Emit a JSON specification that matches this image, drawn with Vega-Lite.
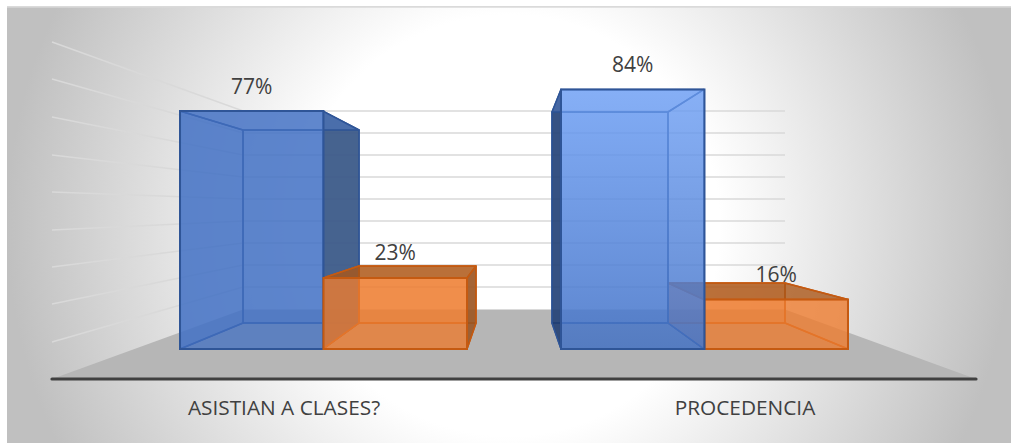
{"$schema":"https://vega.github.io/schema/vega-lite/v6.json","width":1011,"height":444,"padding":0,"autosize":{"type":"none"},"background":"white","view":{"stroke":null},
"datasets":{
"valores":[{"categoria":"ASISTIAN A CLASES?","serie":"Si","valor":0.77},{"categoria":"ASISTIAN A CLASES?","serie":"No","valor":0.23},{"categoria":"PROCEDENCIA","serie":"Si","valor":0.84},{"categoria":"PROCEDENCIA","serie":"No","valor":0.16}],
"piso":[{"h":52,"alto":-0.0971,"bajo":-0.0971},{"h":243,"alto":0.1278,"bajo":-0.0971},{"h":785,"alto":0.1278,"bajo":-0.0971},{"h":976,"alto":-0.0971,"bajo":-0.0971}],
"rejilla":[
{"nivel":90,"h":52,"y":0.9935},{"nivel":90,"h":243,"y":0.7702},{"nivel":90,"h":785,"y":0.7702},
{"nivel":80,"h":52,"y":0.8738},{"nivel":80,"h":243,"y":0.699},{"nivel":80,"h":785,"y":0.699},
{"nivel":70,"h":52,"y":0.7508},{"nivel":70,"h":243,"y":0.6278},{"nivel":70,"h":785,"y":0.6278},
{"nivel":60,"h":52,"y":0.6278},{"nivel":60,"h":243,"y":0.5566},{"nivel":60,"h":785,"y":0.5566},
{"nivel":50,"h":52,"y":0.5081},{"nivel":50,"h":243,"y":0.4854},{"nivel":50,"h":785,"y":0.4854},
{"nivel":40,"h":52,"y":0.3851},{"nivel":40,"h":243,"y":0.4142},{"nivel":40,"h":785,"y":0.4142},
{"nivel":30,"h":52,"y":0.2654},{"nivel":30,"h":243,"y":0.343},{"nivel":30,"h":785,"y":0.343},
{"nivel":20,"h":52,"y":0.1456},{"nivel":20,"h":243,"y":0.2718},{"nivel":20,"h":785,"y":0.2718},
{"nivel":10,"h":52,"y":0.0227},{"nivel":10,"h":243,"y":0.2006},{"nivel":10,"h":785,"y":0.2006}],
"caras":[
{"pieza":"A trasera","serie":"Si","h":243,"alto":0.7087,"bajo":0.0841},{"pieza":"A trasera","serie":"Si","h":359,"alto":0.7087,"bajo":0.0841},
{"pieza":"A inferior","serie":"Si","h":180,"alto":0,"bajo":0},{"pieza":"A inferior","serie":"Si","h":243,"alto":0.0841,"bajo":0},{"pieza":"A inferior","serie":"Si","h":323,"alto":0.0841,"bajo":0},{"pieza":"A inferior","serie":"Si","h":359,"alto":0.0841,"bajo":0.0841},
{"pieza":"A izquierda","serie":"Si","h":180,"alto":0.77,"bajo":0},{"pieza":"A izquierda","serie":"Si","h":243,"alto":0.7087,"bajo":0.0841},
{"pieza":"A derecha","serie":"Si","h":323,"alto":0.77,"bajo":0},{"pieza":"A derecha","serie":"Si","h":359,"alto":0.7087,"bajo":0.0841},
{"pieza":"A superior","serie":"Si","h":180,"alto":0.77,"bajo":0.77},{"pieza":"A superior","serie":"Si","h":243,"alto":0.77,"bajo":0.7087},{"pieza":"A superior","serie":"Si","h":323,"alto":0.77,"bajo":0.7087},{"pieza":"A superior","serie":"Si","h":359,"alto":0.7087,"bajo":0.7087},
{"pieza":"B trasera","serie":"No","h":359,"alto":0.2686,"bajo":0.0841},{"pieza":"B trasera","serie":"No","h":476,"alto":0.2686,"bajo":0.0841},
{"pieza":"B inferior","serie":"No","h":323,"alto":0,"bajo":0},{"pieza":"B inferior","serie":"No","h":359,"alto":0.0841,"bajo":0},{"pieza":"B inferior","serie":"No","h":467,"alto":0.0841,"bajo":0},{"pieza":"B inferior","serie":"No","h":476,"alto":0.0841,"bajo":0.0841},
{"pieza":"B izquierda","serie":"No","h":323,"alto":0.23,"bajo":0},{"pieza":"B izquierda","serie":"No","h":359,"alto":0.2686,"bajo":0.0841},
{"pieza":"B derecha","serie":"No","h":467,"alto":0.23,"bajo":0},{"pieza":"B derecha","serie":"No","h":476,"alto":0.2686,"bajo":0.0841},
{"pieza":"B superior","serie":"No","h":323,"alto":0.23,"bajo":0.23},{"pieza":"B superior","serie":"No","h":359,"alto":0.2686,"bajo":0.23},{"pieza":"B superior","serie":"No","h":467,"alto":0.2686,"bajo":0.23},{"pieza":"B superior","serie":"No","h":476,"alto":0.2686,"bajo":0.2686},
{"pieza":"D trasera","serie":"No","h":668,"alto":0.2136,"bajo":0.0841},{"pieza":"D trasera","serie":"No","h":785,"alto":0.2136,"bajo":0.0841},
{"pieza":"D inferior","serie":"No","h":668,"alto":0.0841,"bajo":0.0841},{"pieza":"D inferior","serie":"No","h":704,"alto":0.0841,"bajo":0},{"pieza":"D inferior","serie":"No","h":785,"alto":0.0841,"bajo":0},{"pieza":"D inferior","serie":"No","h":848,"alto":0,"bajo":0},
{"pieza":"D izquierda","serie":"No","h":668,"alto":0.2136,"bajo":0.0841},{"pieza":"D izquierda","serie":"No","h":704,"alto":0.16,"bajo":0},
{"pieza":"D derecha","serie":"No","h":785,"alto":0.2136,"bajo":0.0841},{"pieza":"D derecha","serie":"No","h":848,"alto":0.16,"bajo":0},
{"pieza":"D superior","serie":"No","h":668,"alto":0.2136,"bajo":0.2136},{"pieza":"D superior","serie":"No","h":704,"alto":0.2136,"bajo":0.16},{"pieza":"D superior","serie":"No","h":785,"alto":0.2136,"bajo":0.16},{"pieza":"D superior","serie":"No","h":848,"alto":0.16,"bajo":0.16},
{"pieza":"C trasera","serie":"Si","h":552,"alto":0.767,"bajo":0.0841},{"pieza":"C trasera","serie":"Si","h":668,"alto":0.767,"bajo":0.0841},
{"pieza":"C inferior","serie":"Si","h":552,"alto":0.0841,"bajo":0.0841},{"pieza":"C inferior","serie":"Si","h":561,"alto":0.0841,"bajo":0},{"pieza":"C inferior","serie":"Si","h":668,"alto":0.0841,"bajo":0},{"pieza":"C inferior","serie":"Si","h":704,"alto":0,"bajo":0},
{"pieza":"C izquierda","serie":"Si","h":552,"alto":0.767,"bajo":0.0841},{"pieza":"C izquierda","serie":"Si","h":561,"alto":0.84,"bajo":0},
{"pieza":"C derecha","serie":"Si","h":668,"alto":0.767,"bajo":0.0841},{"pieza":"C derecha","serie":"Si","h":704,"alto":0.84,"bajo":0},
{"pieza":"C superior","serie":"Si","h":552,"alto":0.767,"bajo":0.767},{"pieza":"C superior","serie":"Si","h":561,"alto":0.84,"bajo":0.767},{"pieza":"C superior","serie":"Si","h":668,"alto":0.84,"bajo":0.767},{"pieza":"C superior","serie":"Si","h":704,"alto":0.84,"bajo":0.84}
]},
"resolve":{"scale":{"x":"independent","fill":"independent","stroke":"independent"}},
"layer":[
{"data":{"values":[{"zona":"fondo"}]},"mark":{"type":"rect","fill":{"gradient":"radial","x1":0.5,"y1":0.5,"r1":0,"x2":0.5,"y2":0.5,"r2":0.5,"stops":[{"offset":0,"color":"#ffffff"},{"offset":0.42,"color":"#ffffff"},{"offset":1,"color":"#c0c0c0"}]}},
"encoding":{"x":{"datum":7,"type":"quantitative","scale":{"domain":[0,1011]},"axis":null},"x2":{"datum":1011},"y":{"datum":1.105,"type":"quantitative","scale":{"domain":[-0.30744,1.12945]},"axis":null},"y2":{"datum":-0.304}}},
{"data":{"values":[{"zona":"borde"}]},"mark":{"type":"rule","stroke":"#bfbfbf","strokeWidth":1},
"encoding":{"x":{"datum":7,"type":"quantitative","scale":{"domain":[0,1011]},"axis":null},"x2":{"datum":1011},"y":{"datum":1.107,"type":"quantitative","scale":{"domain":[-0.30744,1.12945]},"axis":null}}},
{"data":{"name":"piso"},"mark":{"type":"area","fill":"#b6b6b6"},
"encoding":{"x":{"field":"h","type":"quantitative","scale":{"domain":[0,1011]},"axis":null},"y":{"field":"alto","type":"quantitative","stack":null,"scale":{"domain":[-0.30744,1.12945]},"axis":null},"y2":{"field":"bajo"}}},
{"data":{"name":"rejilla"},"mark":{"type":"line","stroke":"#d9d9d9","strokeWidth":1.5},
"encoding":{"x":{"field":"h","type":"quantitative","scale":{"domain":[0,1011]},"axis":null},"y":{"field":"y","type":"quantitative","scale":{"domain":[-0.30744,1.12945]},"axis":null},"detail":{"field":"nivel"}}},
{"data":{"values":[{"zona":"eje"}]},"mark":{"type":"rule","stroke":"#404040","strokeWidth":3.2,"strokeCap":"round"},
"encoding":{"x":{"datum":52,"type":"quantitative","scale":{"domain":[0,1011]},"axis":null},"x2":{"datum":976},"y":{"datum":-0.0971,"type":"quantitative","scale":{"domain":[-0.30744,1.12945]},"axis":null}}},
{"data":{"name":"caras"},"mark":{"type":"area","orient":"vertical","strokeWidth":1.5,"strokeJoin":"round"},
"encoding":{"x":{"field":"h","type":"quantitative","scale":{"domain":[0,1011]},"axis":null},"y":{"field":"alto","type":"quantitative","stack":null,"scale":{"domain":[-0.30744,1.12945]},"axis":null},"y2":{"field":"bajo"},"detail":{"field":"pieza"},
"fill":{"field":"pieza","type":"nominal","legend":null,"sort":null,"scale":{"domain":["A trasera","A inferior","A izquierda","A derecha","A superior","B trasera","B inferior","B izquierda","B derecha","B superior","D trasera","D inferior","D izquierda","D derecha","D superior","C trasera","C inferior","C izquierda","C derecha","C superior"],"range":["rgba(68,114,196,0.55)","rgba(50,90,170,0.2)","rgba(68,114,196,0.55)","rgba(61,90,134,0.9)","rgba(68,114,196,0.5)","rgba(237,125,49,0.5)","rgba(200,95,30,0.2)","rgba(200,100,40,0.3)","rgba(150,85,35,0.85)","rgba(165,85,25,0.75)","rgba(237,125,49,0.5)","rgba(200,95,30,0.2)","rgba(200,100,40,0.3)","rgba(237,125,49,0.25)","rgba(165,85,25,0.75)","rgba(90,140,235,0.4)","rgba(40,90,170,0.2)","rgba(30,60,110,0.85)","rgba(90,140,235,0.25)","rgba(90,140,235,0.3)"]}},
"stroke":{"field":"serie","type":"nominal","legend":null,"scale":{"domain":["Si","No"],"range":["#2f5597","#c55a11"]}}}},
{"data":{"name":"valores"},"transform":[{"filter":"datum.categoria!=='PROCEDENCIA'||datum.serie==='No'"}],"mark":{"type":"bar","strokeWidth":2},
"encoding":{"x":{"field":"categoria","type":"nominal","axis":null,"scale":{"domain":["ASISTIAN A CLASES?","PROCEDENCIA"],"range":[133,895],"paddingInner":0.2467,"paddingOuter":0.1234}},"xOffset":{"field":"serie","type":"nominal","scale":{"domain":["Si","No"]}},"y":{"field":"valor","type":"quantitative","stack":null,"scale":{"domain":[-0.30744,1.12945]},"axis":null},"y2":{"datum":0},
"fill":{"field":"serie","type":"nominal","legend":null,"scale":{"domain":["Si","No"],"range":["rgba(68,114,196,0.7)","rgba(237,125,49,0.75)"]}},
"stroke":{"field":"serie","type":"nominal","legend":null,"scale":{"domain":["Si","No"],"range":["#2f5597","#c55a11"]}}}},
{"data":{"name":"valores"},"transform":[{"filter":"datum.categoria==='PROCEDENCIA'&&datum.serie==='Si'"}],"mark":{"type":"bar","strokeWidth":2,"stroke":"#2f5597","fill":{"gradient":"linear","x1":0,"y1":0,"x2":0,"y2":1,"stops":[{"offset":0,"color":"rgba(110,160,245,0.75)"},{"offset":1,"color":"rgba(68,114,196,0.8)"}]}},
"encoding":{"x":{"field":"categoria","type":"nominal","axis":null,"scale":{"domain":["ASISTIAN A CLASES?","PROCEDENCIA"],"range":[133,895],"paddingInner":0.2467,"paddingOuter":0.1234}},"xOffset":{"field":"serie","type":"nominal","scale":{"domain":["Si","No"]}},"y":{"field":"valor","type":"quantitative","stack":null,"scale":{"domain":[-0.30744,1.12945]},"axis":null},"y2":{"datum":0}}},
{"data":{"name":"valores"},"mark":{"type":"text","font":"Open Sans","fontSize":21,"fill":"#404040","dy":-23.5,"baseline":"middle","align":"center"},
"encoding":{"x":{"field":"categoria","type":"nominal","axis":null,"scale":{"domain":["ASISTIAN A CLASES?","PROCEDENCIA"],"range":[133,895],"paddingInner":0.2467,"paddingOuter":0.1234}},"xOffset":{"field":"serie","type":"nominal","scale":{"domain":["Si","No"]}},"y":{"field":"valor","type":"quantitative","stack":null,"scale":{"domain":[-0.30744,1.12945]},"axis":null},"text":{"field":"valor","type":"quantitative","format":".0%"}}},
{"data":{"values":[{"categoria":"ASISTIAN A CLASES?"},{"categoria":"PROCEDENCIA"}]},"mark":{"type":"text","font":"Open Sans","fontSize":20.8,"fill":"#404040","baseline":"middle","align":"center"},
"encoding":{"x":{"field":"categoria","type":"nominal","axis":null,"scale":{"domain":["ASISTIAN A CLASES?","PROCEDENCIA"],"range":[53.5,975.5],"paddingInner":0,"paddingOuter":0}},"y":{"datum":-0.193,"type":"quantitative","scale":{"domain":[-0.30744,1.12945]},"axis":null},"text":{"field":"categoria","type":"nominal"}}}
]}
